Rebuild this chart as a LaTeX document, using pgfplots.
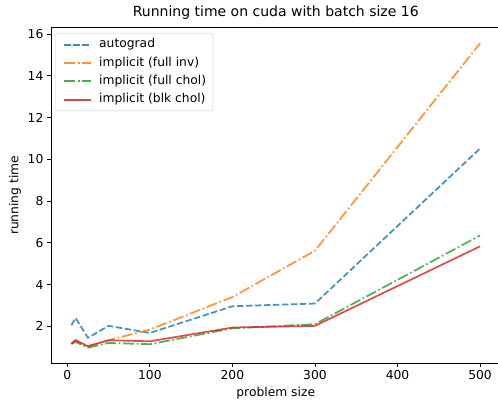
\documentclass[border=0pt]{standalone}
\usepackage{pgfplots}
\pgfplotsset{compat=1.18}
\usepackage{fontspec}
\setmainfont{DejaVu Sans}
\usetikzlibrary{calc}
\definecolor{tabblue}{HTML}{1F77B4}
\definecolor{taborange}{HTML}{FF7F0E}
\definecolor{tabgreen}{HTML}{2CA02C}
\definecolor{tabred}{HTML}{D62728}
\pgfplotstableread{
x autograd fullinv fullchol blkchol
5   2.05 1.17 1.15 1.17
10  2.40 1.32 1.25 1.33
25  1.45 1.05 0.97 1.04
50  2.02 1.33 1.20 1.33
100 1.68 1.84 1.14 1.28
200 2.96 3.40 1.90 1.94
300 3.09 5.62 2.10 2.02
500 10.52 15.56 6.35 5.83
}\datatable
\begin{document}
\begin{tikzpicture}
\begin{axis}[name=ax, scale only axis, width=449.5pt, height=335.3pt,
  xmin=-19.75, xmax=524.75, ymin=0.24, ymax=16.31,
  xtick={0,100,...,500}, ytick={2,4,...,16},
  tick pos=left, tick align=outside, major tick length=4.1pt,
  tick style={black, line width=0.9pt},
  axis line style={line width=0.9pt},
  /pgf/number format/assume math mode=true,
  tick label style={font=\fontsize{12.3}{14}\selectfont},
  label style={font=\fontsize{12.3}{14}\selectfont},
  title={Running time on cuda with batch size 16},
  title style={font=\fontsize{14}{17}\selectfont, at={(0.5,1)}, anchor=base, yshift=5pt, inner sep=0pt},
  xlabel={problem size}, ylabel={running time},
  legend cell align=left,
  legend image code/.code={\draw[#1, line width=2pt, draw opacity=0.85] (0pt,0pt) -- (26.6pt,0pt); \path (-3.5pt,0pt) (32pt,0pt);},
  legend style={at={(0.009,0.984)}, anchor=north west, draw=black!20, rounded corners=2.5pt,
    fill=white, fill opacity=0.8, text opacity=1, font=\fontsize{12.3}{14}\selectfont,
    inner xsep=4.7pt, inner ysep=3.2pt, row sep=2pt,
    nodes={text height=9.3pt, text depth=3pt, inner sep=2pt}},
  every axis plot/.append style={line width=1.75pt, draw opacity=0.82},
]
\addplot[tabblue, dash pattern=on 6.3pt off 2.7pt] table[x=x, y=autograd]{\datatable};
\addlegendentry{autograd}
\addplot[taborange, dash pattern=on 10.9pt off 2.7pt on 1.7pt off 2.7pt] table[x=x, y=fullinv]{\datatable};
\addlegendentry{implicit (full inv)}
\addplot[tabgreen, dash pattern=on 10.9pt off 2.7pt on 1.7pt off 2.7pt] table[x=x, y=fullchol]{\datatable};
\addlegendentry{implicit (full chol)}
\addplot[tabred] table[x=x, y=blkchol]{\datatable};
\addlegendentry{implicit (blk chol)}
\end{axis}
\pgfresetboundingbox
\path[use as bounding box] ($(ax.south west)+(-51pt,-38pt)$) rectangle ($(ax.north east)+(-2.5pt,27.7pt)$);
\end{tikzpicture}
\end{document}
